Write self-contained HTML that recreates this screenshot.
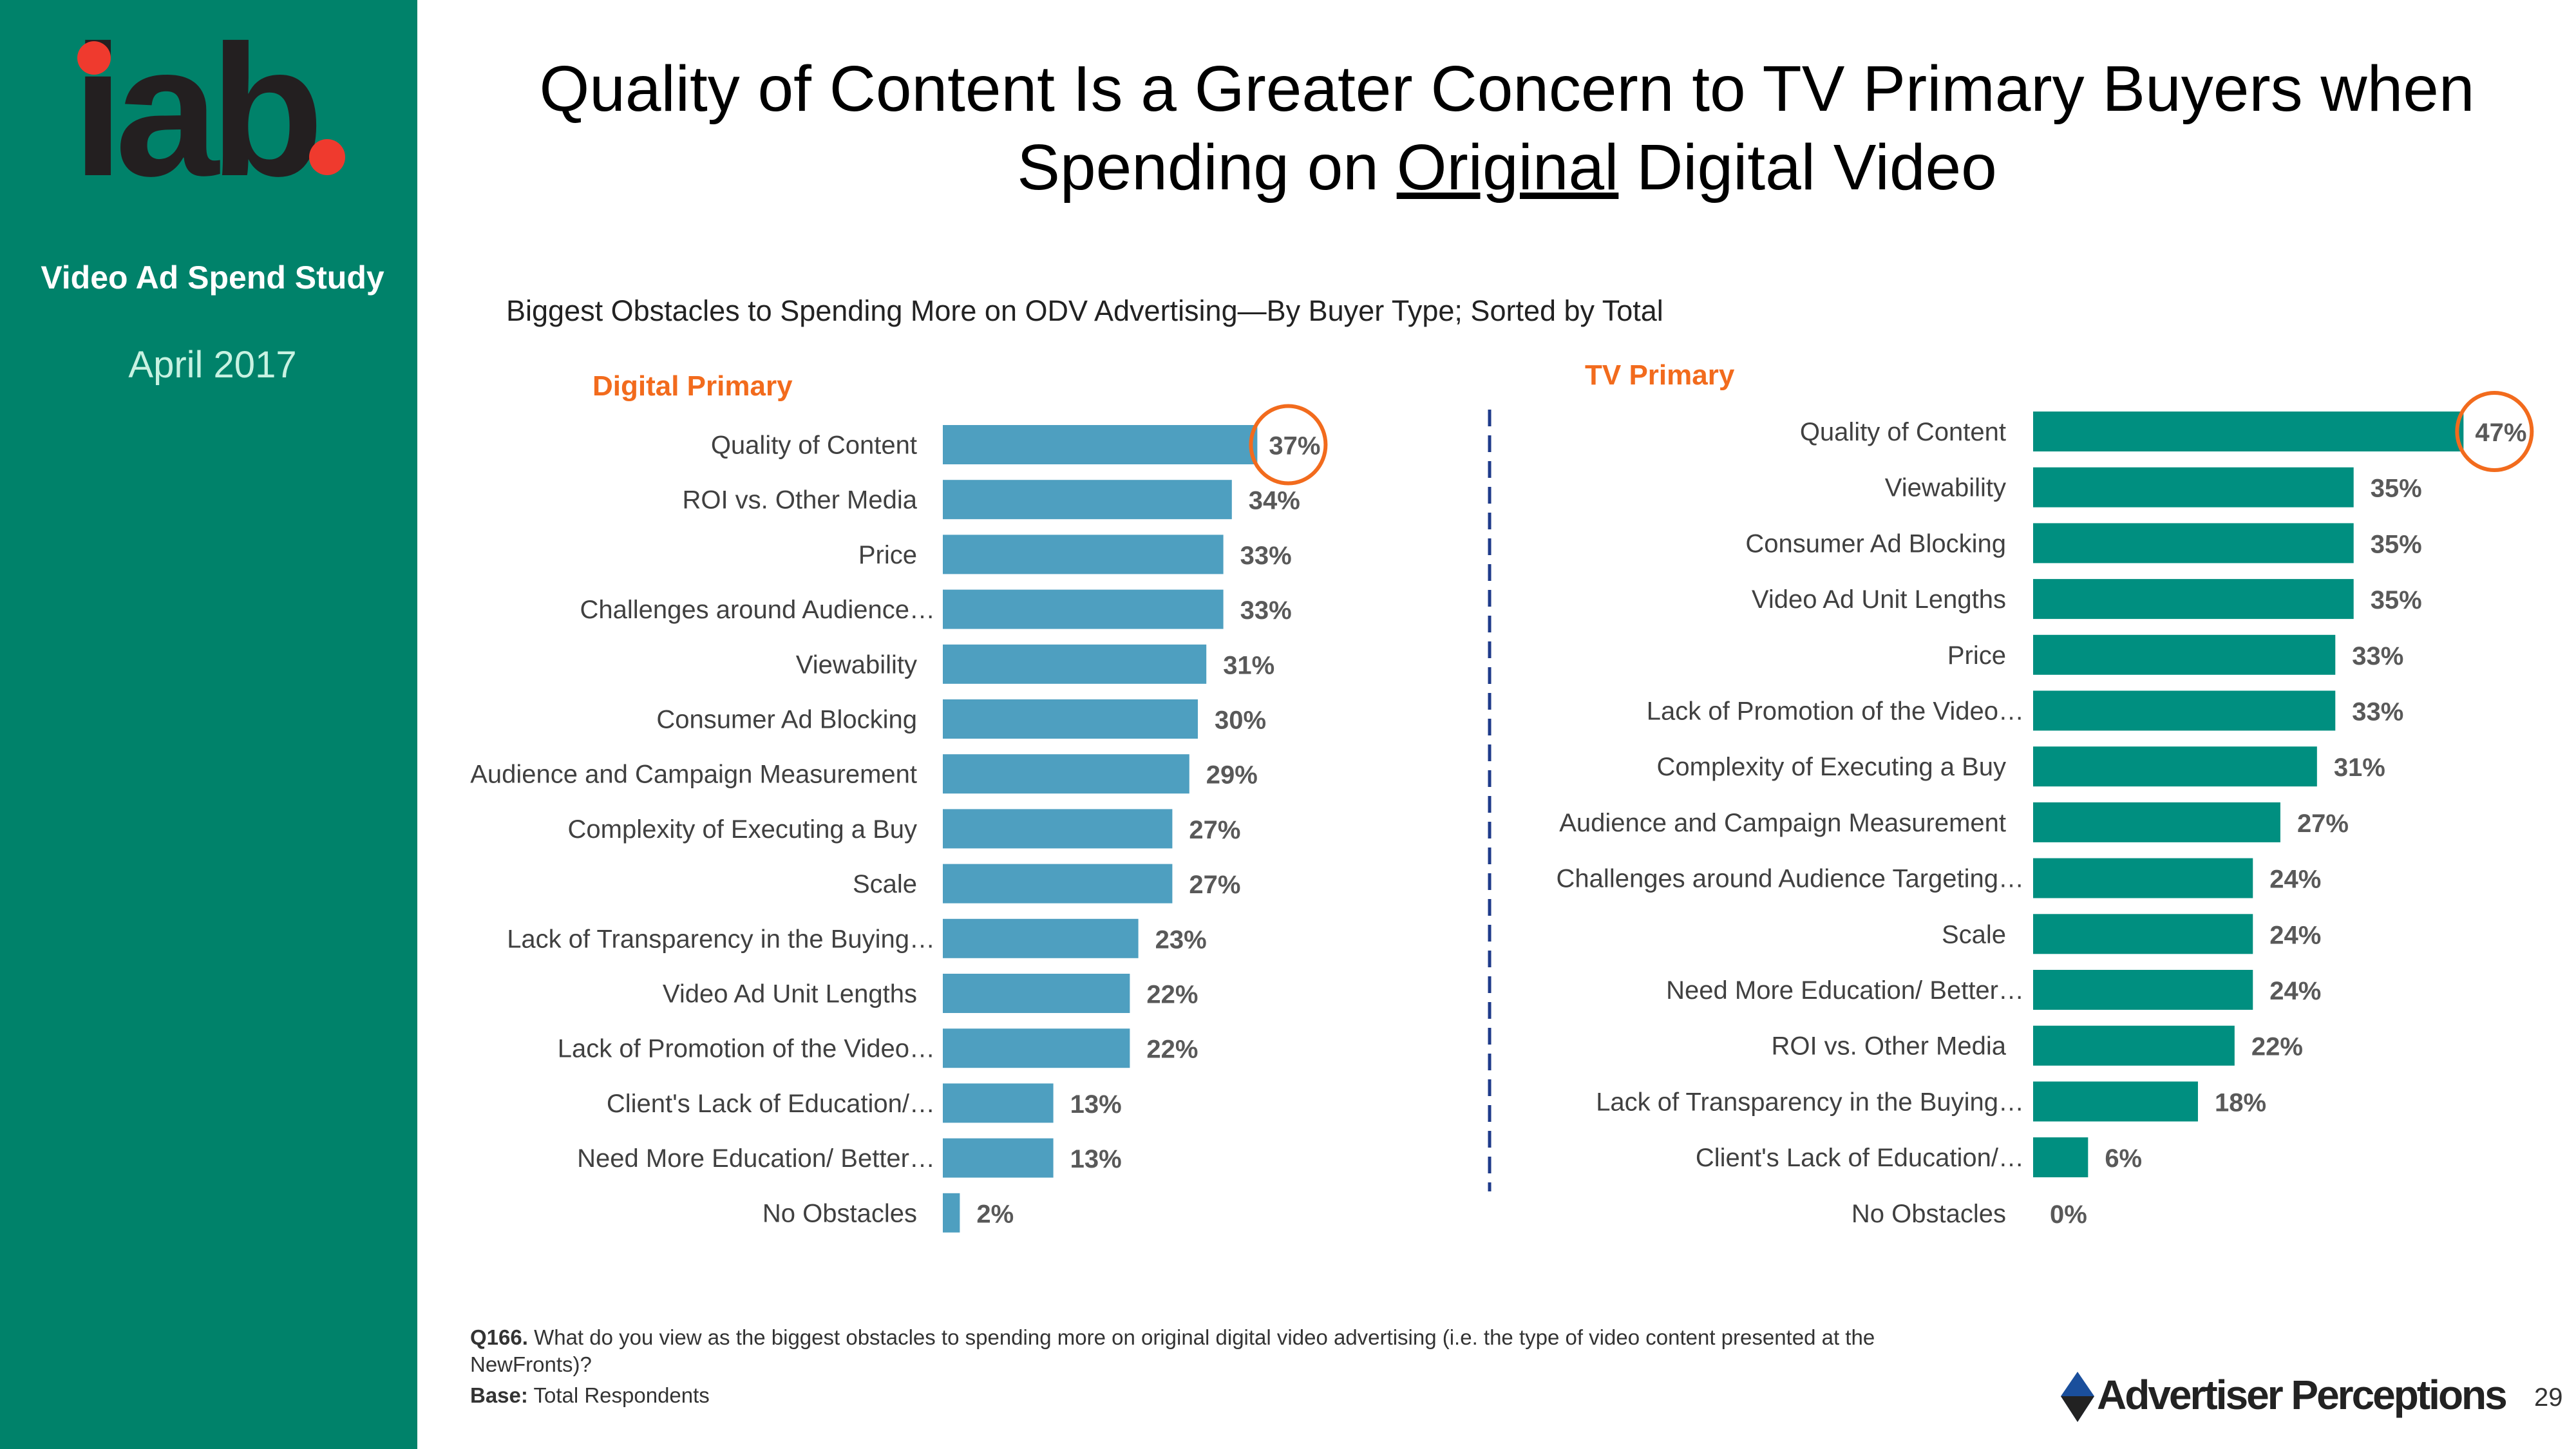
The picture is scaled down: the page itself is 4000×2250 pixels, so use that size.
<!DOCTYPE html>
<html><head><meta charset="utf-8"><style>
html,body{margin:0;padding:0;width:4000px;height:2250px;overflow:hidden;background:#fff;font-family:"Liberation Sans",sans-serif}
svg{display:block}
</style></head><body>
<svg id="c" width="4000" height="2250" xmlns="http://www.w3.org/2000/svg" font-family="Liberation Sans, sans-serif">
<rect x="0" y="0" width="648" height="2250" fill="#00826a"/>
<g>
<text x="112" y="272" font-size="290" font-weight="bold" fill="#231f20" letter-spacing="-14">iab</text>
<circle cx="146" cy="90" r="26" fill="#ef3a2e"/>
<circle cx="508" cy="244" r="28" fill="#ef3a2e"/>
</g>
<text x="330" y="448" font-size="50" font-weight="bold" fill="#fff" text-anchor="middle">Video Ad Spend Study</text>
<text x="330" y="586" font-size="58" fill="#c8f2e2" text-anchor="middle">April 2017</text>
<text x="2340" y="172" font-size="100" fill="#000" text-anchor="middle">Quality of Content Is a Greater Concern to TV Primary Buyers when</text>
<text x="2340" y="294" font-size="100" fill="#000" text-anchor="middle">Spending on <tspan text-decoration="underline">Original</tspan> Digital Video</text>
<text x="786" y="498" font-size="45" fill="#222">Biggest Obstacles to Spending More on ODV Advertising—By Buyer Type;  Sorted by Total</text>
<text x="920" y="614" font-size="44" font-weight="bold" fill="#f26b1d">Digital Primary</text>
<text x="2461" y="597" font-size="44" font-weight="bold" fill="#f26b1d">TV Primary</text>
<line x1="2313" y1="636" x2="2313" y2="1850" stroke="#1f3b8a" stroke-width="5" stroke-dasharray="26,14"/>
<g id="left"></g>
<g id="right"></g>
<text x="730" y="2088" font-size="33" fill="#333"><tspan font-weight="bold">Q166.</tspan>  What do you view as the biggest obstacles to spending more on original digital video advertising (i.e. the type of video content presented at the</text>
<text x="730" y="2130" font-size="33" fill="#333">NewFronts)?</text>
<text x="730" y="2178" font-size="33" fill="#333"><tspan font-weight="bold">Base:</tspan> Total Respondents</text>
<g>
<polygon points="3226,2130 3252,2168 3226,2208 3200,2168" fill="#1a4f9c"/>
<polygon points="3226,2168 3252,2168 3226,2208 3200,2168" fill="#222"/>
<text x="3256" y="2188" font-size="64" font-weight="bold" fill="#222" letter-spacing="-3">Advertiser Perceptions</text>
</g>
<text x="3935" y="2183" font-size="40" fill="#333" text-anchor="start">29</text>
</svg>
<script>
const leftCats=["Quality of Content","ROI vs. Other Media","Price","Challenges around Audience…","Viewability","Consumer Ad Blocking","Audience and Campaign Measurement","Complexity of Executing a Buy","Scale","Lack of Transparency in the Buying…","Video Ad Unit Lengths","Lack of Promotion of the Video…","Client's Lack of Education/…","Need More Education/ Better…","No Obstacles"];
const leftVals=[37,34,33,33,31,30,29,27,27,23,22,22,13,13,2];
const rightCats=["Quality of Content","Viewability","Consumer Ad Blocking","Video Ad Unit Lengths","Price","Lack of Promotion of the Video…","Complexity of Executing a Buy","Audience and Campaign Measurement","Challenges around Audience Targeting…","Scale","Need More Education/ Better…","ROI vs. Other Media","Lack of Transparency in the Buying…","Client's Lack of Education/…","No Obstacles"];
const rightVals=[47,35,35,35,33,33,31,27,24,24,24,22,18,6,0];
const NS="http://www.w3.org/2000/svg";
function mk(tag,attrs,parent){const e=document.createElementNS(NS,tag);for(const k in attrs)e.setAttribute(k,attrs[k]);parent.appendChild(e);return e;}
function draw(g,cats,vals,cfg){
  const xs=v=>cfg.x0+v*cfg.k;
  const ys=i=>cfg.y0+i*cfg.step;
  cats.forEach((c,i)=>{
    const y=ys(i),v=vals[i];
    const t=mk('text',{x:c.endsWith('…')?cfg.lx+28:cfg.lx,y:y+cfg.h/2+14,'font-size':40,fill:'#404040','text-anchor':'end'},g);
    t.textContent=c;
    
    
    if(v>0){
      const r=mk('rect',{x:cfg.x0,y:y,width:xs(v)-cfg.x0,height:cfg.h,fill:cfg.color},g);
      
      
    }
    const vt=mk('text',{x:xs(v)+(i===0?18:26),y:y+cfg.h/2+15,'font-size':40,'font-weight':'bold',fill:'#595959'},g);
    vt.textContent=v+'%';
    
    
    if(i===0){
      const ci=mk('ellipse',{cx:xs(v)+48,cy:y+cfg.h/2,rx:58,ry:60,fill:'none',stroke:'#f26b1d','stroke-width':6},g);
      
      
    }
  });
}
draw(document.getElementById('left'),leftCats,leftVals,{x0:1464,k:13.2,y0:660,step:85.2,h:61,lx:1424,color:'#4e9fc0'});
draw(document.getElementById('right'),rightCats,rightVals,{x0:3157,k:14.22,y0:639,step:86.7,h:62,lx:3115,color:'#008f80'});
</script>
</body></html>
